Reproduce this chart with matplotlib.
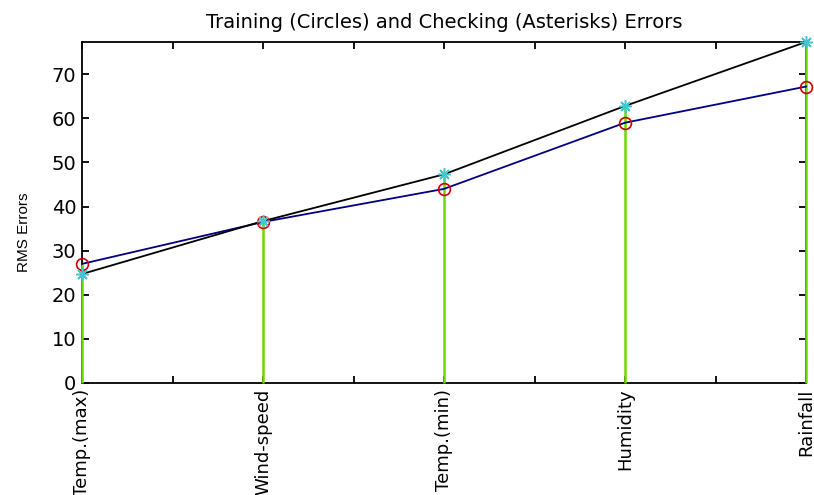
import matplotlib
matplotlib.use("Agg")
import matplotlib.pyplot as plt

# 入力変数ごとの RMS 誤差
variables = ["Temp.(max)", "Wind-speed", "Temp.(min)", "Humidity", "Rainfall"]
training_err = [27.0, 36.5, 44.0, 59.0, 67.2]
checking_err = [24.7, 36.7, 47.3, 62.8, 77.3]

plt.rcParams['font.family'] = ['DejaVu Sans']

fig = plt.figure(figsize=(8.14, 4.95), dpi=100)
ax = fig.add_axes([82 / 814, 1 - 383 / 495, (806 - 82) / 814, (383 - 42) / 495])

x = list(range(1, len(variables) + 1))
stem_top = [max(a, b) for a, b in zip(training_err, checking_err)]

# 縦の緑線 (軸の上に描く)
ax.vlines(x, 0, stem_top, colors="#70d800", linewidth=1.8, zorder=3, clip_on=False)

ax.plot(x, training_err, color="#000080", linewidth=1.3, zorder=4, clip_on=False)
ax.plot(x, checking_err, color="black", linewidth=1.3, zorder=4, clip_on=False)
ax.plot(x, training_err, "o", mfc="none", mec="#cc0000", ms=8.5, mew=1.2,
        zorder=5, clip_on=False)
ax.plot(x, checking_err, marker=(8, 2, 0), ls="none", color="#40c8d0", ms=9, mew=1.1,
        zorder=5, clip_on=False)

ax.set_xlim(1, 5)
ax.set_ylim(0, max(checking_err))

ticks = [1 + 0.5 * i for i in range(9)]
ax.set_xticks(ticks)
ax.set_xticklabels([variables[int(t) - 1] if t == int(t) else "" for t in ticks],
                   rotation=90, fontsize=13)
ax.set_yticks(range(0, 80, 10))
ax.tick_params(axis="both", direction="in", length=5, width=1.3, top=True, right=True,
               pad=4)
ax.tick_params(axis="y", labelsize=14)
for s in ax.spines.values():
    s.set_linewidth(1.3)

ax.set_ylabel("RMS Errors", fontsize=11, family=["Liberation Sans", "DejaVu Sans"])
ax.yaxis.set_label_coords(-0.07, 0.443)
ax.set_title("Training (Circles) and Checking (Asterisks) Errors", fontsize=14, pad=10)

fig.savefig("out.png", dpi=100)
